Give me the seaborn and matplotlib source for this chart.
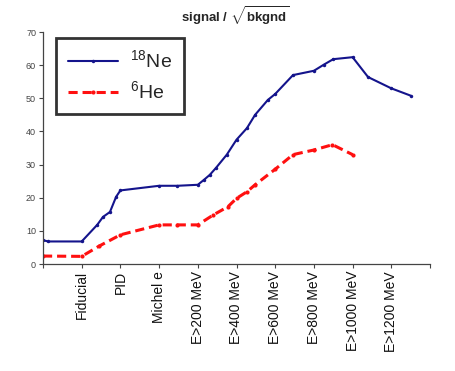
import matplotlib
matplotlib.use("Agg")
import matplotlib.pyplot as plt
import seaborn as sns
import pandas as pd

cut_labels = ["", "Fiducial", "PID", "Michel e", "E>200 MeV", "E>400 MeV",
              "E>600 MeV", "E>800 MeV", "E>1000 MeV", "E>1200 MeV", ""]

ne_x = [0.0, 0.13, 1.0, 1.4, 1.55, 1.73, 1.89, 2.0, 3.0, 3.47, 4.0, 4.16, 4.31,
        4.47, 4.75, 5.0, 5.27, 5.48, 5.81, 6.0, 6.46, 7.0, 7.25, 7.5, 8.0, 8.4,
        9.0, 9.5]
ne_y = [7.2, 6.8, 6.8, 11.8, 14.2, 15.7, 20.3, 22.2, 23.6, 23.6, 23.9, 25.4,
        26.9, 29.0, 33.0, 37.5, 41.0, 45.0, 49.5, 51.3, 57.0, 58.3, 60.1, 61.8,
        62.4, 56.4, 53.0, 50.8]

he_x = [0.0, 1.0, 1.45, 2.0, 3.0, 3.47, 4.0, 4.4, 4.78, 5.0, 5.27, 5.48, 6.0,
        6.46, 7.0, 7.48, 8.0]
he_y = [2.4, 2.3, 5.4, 8.8, 11.8, 11.8, 11.8, 14.8, 17.3, 19.8, 21.8, 23.9,
        28.6, 33.0, 34.4, 36.0, 33.0]

ne_label = r"$^{18}$Ne"
he_label = r"$^{6}$He"

sns.set_theme(style="white")
plt.rcParams["font.family"] = ["Liberation Sans", "DejaVu Sans"]
plt.rcParams["mathtext.fontset"] = "custom"
plt.rcParams["mathtext.rm"] = "Liberation Sans"
plt.rcParams["mathtext.bf"] = "Liberation Sans:bold"

fig = plt.figure(figsize=(4.55, 3.71), dpi=100)
ax = fig.add_axes([43 / 455, 1 - 264 / 371, 387 / 455, 232 / 371])

df_ne = pd.DataFrame({"x": ne_x, "y": ne_y})
df_he = pd.DataFrame({"x": he_x, "y": he_y})

sns.lineplot(data=df_ne, x="x", y="y", ax=ax, color="#14148c", lw=1.5,
             marker="o", markersize=2.5, markeredgewidth=0, sort=False,
             estimator=None, label=ne_label)
sns.lineplot(data=df_he, x="x", y="y", ax=ax, color="#ff1010", lw=2.2,
             marker="o", markersize=3, markeredgewidth=0, sort=False,
             estimator=None, label=he_label)
for line in ax.get_lines():
    if line.get_label() == he_label:
        line.set_linestyle((0, (3, 1.6)))

ax.set_xlim(0, 10)
ax.set_ylim(0, 70)
ax.set_xticks(range(11))
ax.set_xticklabels(cut_labels, rotation=90, fontsize=10, color="#111111")
ax.set_yticks(range(0, 71, 10))
ax.set_yticklabels([str(v) for v in range(0, 71, 10)], fontsize=6.5,
                   color="#444444")
ax.set_xlabel("")
ax.set_ylabel("")
ax.tick_params(axis="both", which="major", length=3, width=0.8,
               color="#444444", direction="out", bottom=True, left=True, pad=2)
for s in ["top", "right"]:
    ax.spines[s].set_visible(False)
for s in ["left", "bottom"]:
    ax.spines[s].set_color("#444444")
    ax.spines[s].set_linewidth(0.9)

leg = ax.legend(loc="upper left", bbox_to_anchor=(0.034, 0.974), fontsize=14,
                frameon=True, fancybox=False, handlelength=2.6,
                borderpad=0.6, labelspacing=0.4, handletextpad=0.6,
                borderaxespad=0)
leg.get_frame().set_edgecolor("black")
leg.get_frame().set_linewidth(2)
for h in leg.get_lines():
    if h.get_label() == he_label:
        h.set_linestyle((0, (3, 1.6)))

fig.text(235 / 455, 1 - 16 / 371, r"signal / $\sqrt{\mathbf{bkgnd}}$",
         ha="center", va="center", fontsize=9.5, fontweight="bold")

fig.savefig("out.png", dpi=100, facecolor="white")
